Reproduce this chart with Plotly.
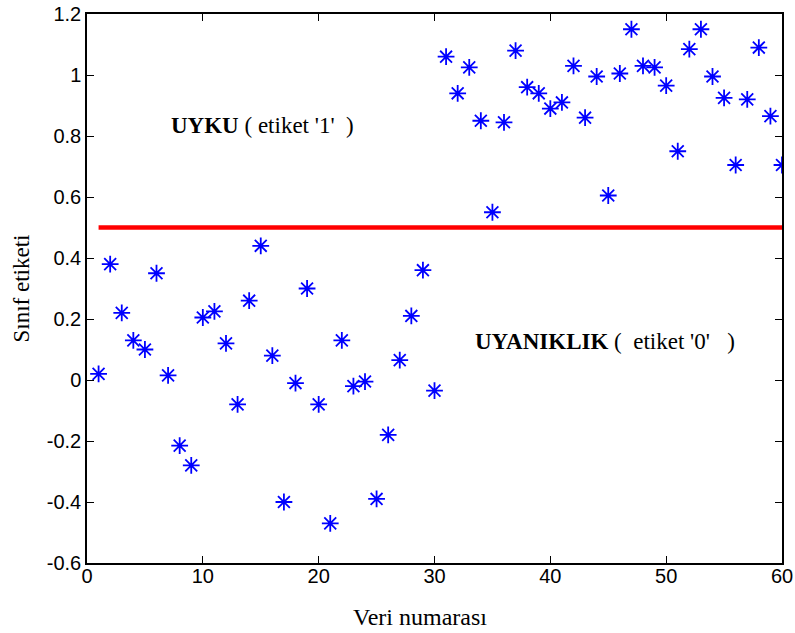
import plotly.graph_objects as go

# Sample index and class-label estimates
veri_no = list(range(1, 61))
sinif_etiketi = [
    0.02, 0.38, 0.22, 0.13, 0.10, 0.35, 0.015, -0.215, -0.28, 0.205,
    0.225, 0.12, -0.08, 0.26, 0.44, 0.08, -0.40, -0.01, 0.30, -0.08,
    -0.47, 0.13, -0.02, -0.005, -0.39, -0.18, 0.065, 0.21, 0.36, -0.035,
    1.06, 0.94, 1.025, 0.85, 0.55, 0.845, 1.08, 0.96, 0.94, 0.89,
    0.91, 1.03, 0.86, 0.995, 0.605, 1.005, 1.15, 1.03, 1.025, 0.965,
    0.75, 1.085, 1.15, 0.995, 0.925, 0.705, 0.92, 1.09, 0.865, 0.705,
]

# Decision threshold between the two classes
esik_x = [1, 60]
esik_y = [0.5, 0.5]

x_ticks = [0, 10, 20, 30, 40, 50, 60]
y_ticks = [-0.6, -0.4, -0.2, 0, 0.2, 0.4, 0.6, 0.8, 1.0, 1.2]
y_tick_text = ["-0.6", "-0.4", "-0.2", "0", "0.2", "0.4", "0.6", "0.8", "1", "1.2"]

fig = go.Figure()

fig.add_trace(go.Scatter(
    x=esik_x, y=esik_y, mode="lines",
    line=dict(color="#ff0000", width=4.5),
    showlegend=False, hoverinfo="skip",
))

fig.add_trace(go.Scatter(
    x=veri_no, y=sinif_etiketi, mode="markers",
    marker=dict(symbol="asterisk-open", size=14,
                line=dict(color="#0000ff", width=1.8), color="#0000ff"),
    showlegend=False,
))

serif = "Liberation Serif, Times New Roman, serif"
sans = "Liberation Sans, Arial, sans-serif"

axis_common = dict(
    showline=True, linecolor="black", linewidth=1.5, mirror="ticks",
    ticks="inside", ticklen=7, tickwidth=1.2, tickcolor="black",
    showgrid=False, zeroline=False, automargin=False,
    tickfont=dict(family=sans, size=20, color="black"),
)

fig.update_xaxes(range=[0, 60], tickvals=x_ticks, ticklabelstandoff=-6, **axis_common)
fig.update_yaxes(range=[-0.6, 1.2], tickvals=y_ticks, ticktext=y_tick_text, **axis_common)

# Axis titles
fig.add_annotation(
    x=0.479, y=617, xref="paper", yref="paper", yanchor="middle", xanchor="center",
    text="Veri numarası", showarrow=False,
    font=dict(family=serif, size=24, color="black"),
)
fig.add_annotation(
    x=21, y=0.5, xref="paper", yref="paper", xanchor="center", yanchor="middle",
    text="Sınıf etiketi", showarrow=False, textangle=-90,
    font=dict(family=serif, size=23, color="black"),
)

# Class labels inside the plot
fig.add_annotation(
    x=7.1, y=0.835, xref="x", yref="y", xanchor="left", yanchor="middle",
    text="<b>UYKU</b> ( etiket '1'  )",
    showarrow=False, font=dict(family=serif, size=23, color="black"),
)
fig.add_annotation(
    x=33.3, y=0.125, xref="x", yref="y", xanchor="left", yanchor="middle",
    text="<b>UYANIKLIK</b> (  etiket '0'   )",
    showarrow=False, font=dict(family=serif, size=23, color="black"),
)

fig.update_layout(
    width=795, height=633,
    margin=dict(l=87, r=13, t=14, b=70),
    paper_bgcolor="white", plot_bgcolor="white",
)

# Place the axis titles in pixel terms relative to the plot area
plot_w = 795 - 87 - 13
plot_h = 633 - 14 - 70
fig.layout.annotations[0].y = -(617 - (14 + plot_h)) / plot_h
fig.layout.annotations[1].x = -(87 - 21) / plot_w

fig.write_html("out.html")
